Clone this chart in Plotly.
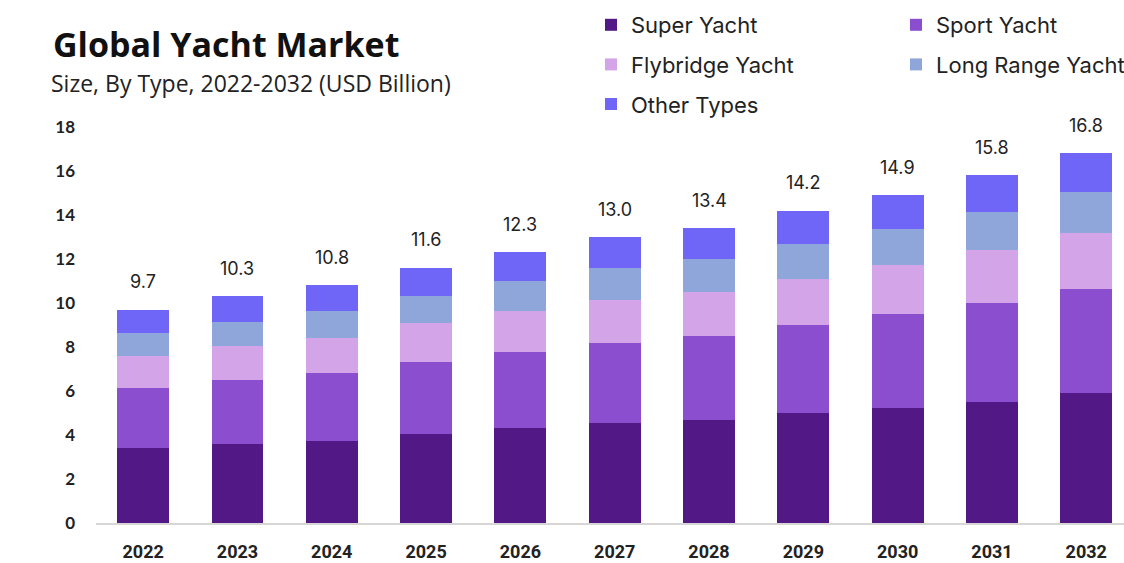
import plotly.graph_objects as go

# Global yacht market size by type (USD billion)
years = ["2022", "2023", "2024", "2025", "2026", "2027", "2028", "2029", "2030", "2031", "2032"]
super_yacht = [3.4, 3.6, 3.75, 4.05, 4.3, 4.55, 4.7, 5.0, 5.25, 5.5, 5.9]
sport_yacht = [2.75, 2.9, 3.05, 3.28, 3.49, 3.65, 3.8, 4.0, 4.25, 4.5, 4.75]
flybridge_yacht = [1.45, 1.55, 1.63, 1.75, 1.85, 1.95, 2.0, 2.1, 2.25, 2.4, 2.55]
long_range_yacht = [1.05, 1.1, 1.22, 1.25, 1.36, 1.45, 1.5, 1.6, 1.6, 1.75, 1.85]
other_types = [1.05, 1.15, 1.15, 1.27, 1.3, 1.4, 1.4, 1.5, 1.55, 1.65, 1.75]
totals = [9.7, 10.3, 10.8, 11.6, 12.3, 13.0, 13.4, 14.2, 14.9, 15.8, 16.8]

y_ticks = [0, 2, 4, 6, 8, 10, 12, 14, 16, 18]

series = [
    ("Super Yacht", super_yacht, "#521885", "legend"),
    ("Sport Yacht", sport_yacht, "#8B4ECF", "legend2"),
    ("Flybridge Yacht", flybridge_yacht, "#D4A4E9", "legend"),
    ("Long Range Yacht", long_range_yacht, "#8EA6DA", "legend2"),
    ("Other Types", other_types, "#6F66F8", "legend"),
]

# plot area in pixels: x 96..1124, y 127..523
L, R, T, B = 96, 1124, 127, 523
def px_x(x):
    return (x - L) / (R - L)
def px_y(y):
    return (B - y) / (B - T)

fig = go.Figure()
for name, vals, color, leg in series:
    fig.add_trace(go.Bar(
        x=years, y=vals, name=name,
        marker=dict(color=color, line=dict(width=0)),
        legend=leg, legendgroup=name,
        width=0.55,
    ))

# total value above each stacked bar (category index as x position)
for i, tot in enumerate(totals):
    fig.add_annotation(
        x=i, y=tot, text=f"{tot:.1f}", showarrow=False,
        yshift=28, font=dict(family="Inter, Open Sans, sans-serif", size=18, color="#222222"),
    )

fig.add_annotation(
    xref="paper", yref="paper", x=px_x(51), y=px_y(44),
    xanchor="left", yanchor="middle", showarrow=False,
    text="<b>Global Yacht Market</b>",
    font=dict(family="Open Sans, sans-serif", size=34, color="#111111"),
)
fig.add_annotation(
    xref="paper", yref="paper", x=px_x(49), y=px_y(83),
    xanchor="left", yanchor="middle", showarrow=False,
    text="Size, By Type, 2022-2032 (USD Billion)",
    font=dict(family="Open Sans, sans-serif", size=23, color="#222222"),
)

legend_font = dict(family="Inter, Open Sans, sans-serif", size=22, color="#222222")
fig.update_layout(
    width=1124, height=563,
    paper_bgcolor="white", plot_bgcolor="white",
    margin=dict(l=L, r=1124 - R, t=T, b=563 - B, autoexpand=False),
    barmode="stack",
    showlegend=True,
    legend=dict(
        orientation="v", traceorder="grouped", tracegroupgap=8,
        x=px_x(591), xanchor="left",
        y=px_y(4), yanchor="top",
        font=legend_font, bgcolor="rgba(0,0,0,0)", itemclick=False,
    ),
    legend2=dict(
        orientation="v", traceorder="grouped", tracegroupgap=8,
        x=px_x(896), xanchor="left",
        y=px_y(4), yanchor="top",
        font=legend_font, bgcolor="rgba(0,0,0,0)", itemclick=False,
    ),
    xaxis=dict(
        type="category",
        range=[-0.5, 10.4], showgrid=False, zeroline=False,
        showline=True, linecolor="#d6d6d6", linewidth=1.5,
        ticks="", ticklabelstandoff=12, tickangle=0,
        tickfont=dict(family="Roboto, sans-serif", size=18, color="#222222", weight="bold"),
    ),
    yaxis=dict(
        range=[0, 18], tickvals=y_ticks, showgrid=False, zeroline=False,
        showline=False, ticks="", ticklabelstandoff=20,
        tickfont=dict(family="Lato, sans-serif", size=17, color="#222222", weight="bold"),
    ),
)

fig.write_html("out.html")
